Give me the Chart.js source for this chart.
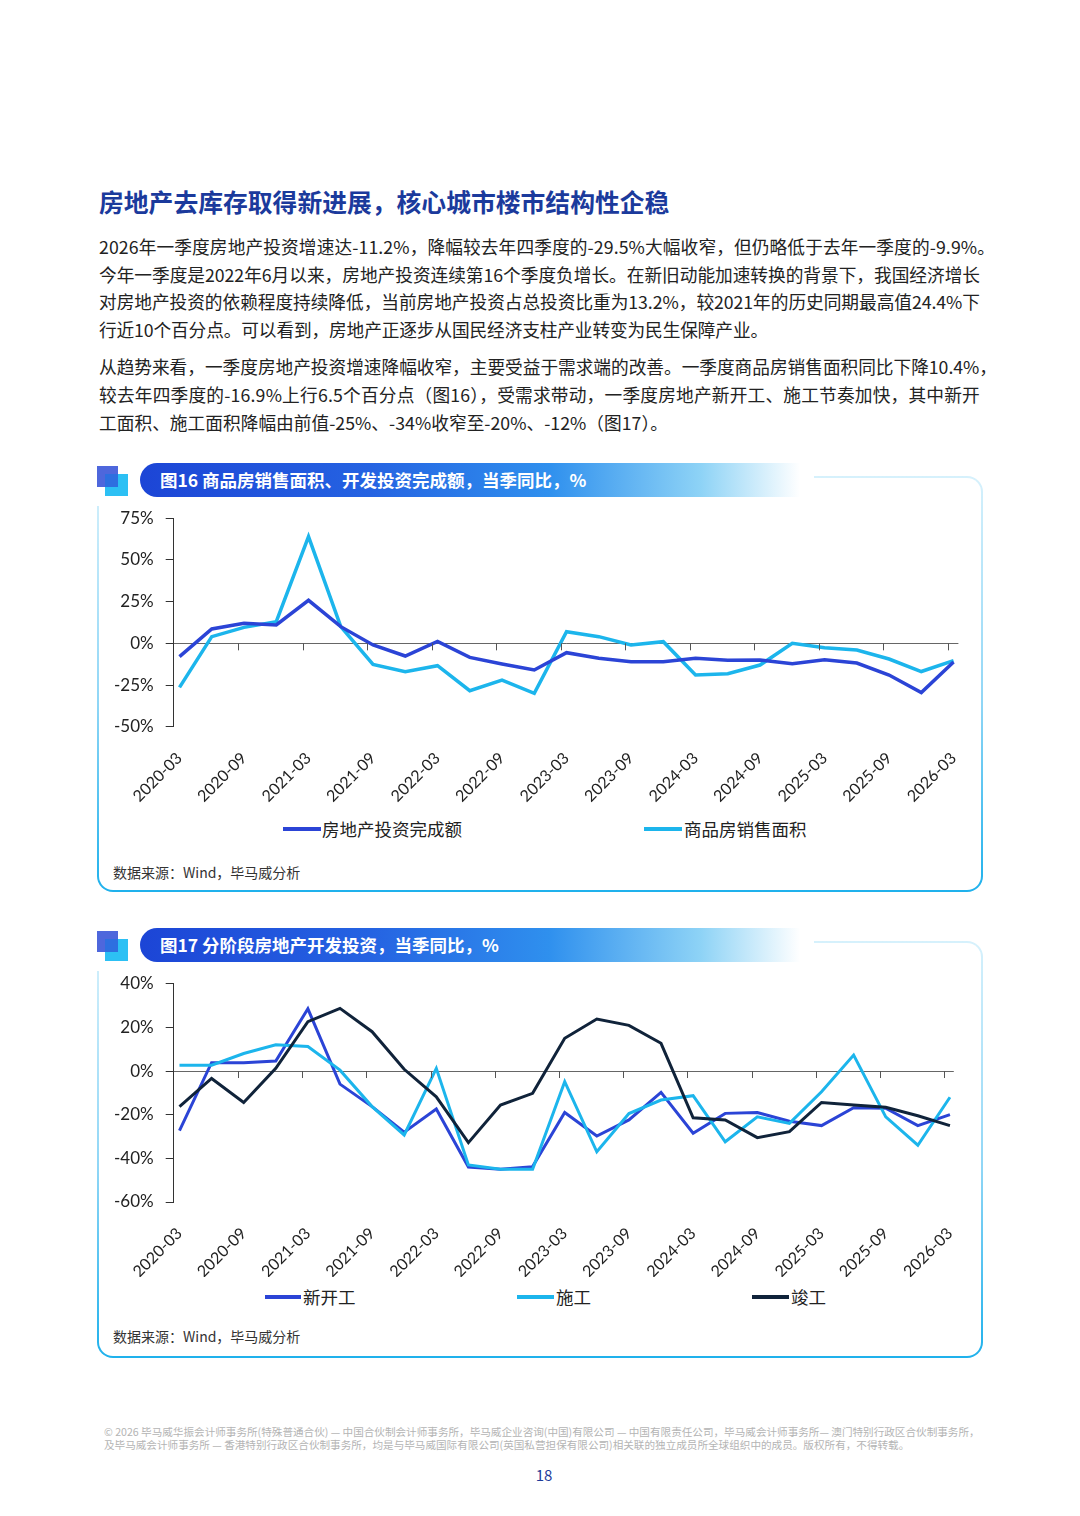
<!DOCTYPE html>
<html>
<head>
<meta charset="utf-8">
<script src="https://cdn.jsdelivr.net/npm/chart.js@4"></script>
<style>
  html, body { margin: 0; padding: 0; background: #fff; }
  body { width: 1080px; height: 1516px; position: relative; overflow: hidden;
         font-family: "Noto Sans CJK SC", "Noto Sans", sans-serif; color: #222; }
  .abs { position: absolute; }
  h1 { position: absolute; left: 99px; top: 184px; margin: 0; font-size: 24.8px; line-height: 34px;
       color: #1b3a9c; font-weight: 700; white-space: nowrap; }
  .para { position: absolute; left: 99px; font-size: 17.7px; line-height: 27.7px; white-space: nowrap; color: #222; }
  .frame { position: absolute; left: 97px; width: 886px; border: 2px solid transparent; border-radius: 16px;
           box-sizing: border-box;
           background: linear-gradient(#fff, #fff) padding-box,
                       linear-gradient(180deg, #d6f1fc 0%, #8fd6f6 55%, #1fb1ec 100%) border-box; }
  .mask { position: absolute; left: 94px; width: 720px; height: 36px; background: #fff; }
  .sqA { position: absolute; width: 21px; height: 21px; background: #4e67dc; }
  .sqB { position: absolute; width: 23px; height: 22px; background: #2cc0f4; }
  .sqC { position: absolute; width: 13px; height: 13px; background: #2d6fe0; }
  .pill { position: absolute; left: 140px; width: 660px; height: 34px; border-radius: 17px 0 0 17px;
          background: linear-gradient(90deg, #1c45d6 0%, #2563e2 35%, #2f90ee 62%, #8ed3f6 85%, rgba(255,255,255,0) 100%); }
  .pill span { position: absolute; left: 20px; top: 0; line-height: 34px; font-size: 17.5px; font-weight: 700;
               color: #fff; white-space: nowrap; }
  .box { position: absolute; left: 97px; width: 886px; height: 312px; }
  .leg { position: absolute; font-size: 17.5px; line-height: 22px; white-space: nowrap; color: #222; }
  .leg i { position: absolute; height: 4px; top: 9px; }
  .src { position: absolute; left: 113px; font-size: 14px; line-height: 20px; color: #333; white-space: nowrap; }
  .foot { position: absolute; left: 104px; font-size: 10.6px; line-height: 13px; color: #b4b4b4; white-space: nowrap; }
</style>
</head>
<body>

<h1>房地产去库存取得新进展，核心城市楼市结构性企稳</h1>

<div class="para" data-end="995" style="top:233px">2026年一季度房地产投资增速达-11.2%，降幅较去年四季度的-29.5%大幅收窄，但仍略低于去年一季度的-9.9%。</div>
<div class="para" data-end="980" style="top:261px">今年一季度是2022年6月以来，房地产投资连续第16个季度负增长。在新旧动能加速转换的背景下，我国经济增长</div>
<div class="para" data-end="980" style="top:288px">对房地产投资的依赖程度持续降低，当前房地产投资占总投资比重为13.2%，较2021年的历史同期最高值24.4%下</div>
<div class="para" data-end="768" style="top:316px">行近10个百分点。可以看到，房地产正逐步从国民经济支柱产业转变为民生保障产业。</div>

<div class="para" data-end="997" style="top:353px">从趋势来看，一季度房地产投资增速降幅收窄，主要受益于需求端的改善。一季度商品房销售面积同比下降10.4%，</div>
<div class="para" data-end="980" style="top:381px">较去年四季度的-16.9%上行6.5个百分点（图16），受需求带动，一季度房地产新开工、施工节奏加快，其中新开</div>
<div class="para" data-end="668" style="top:409px">工面积、施工面积降幅由前值-25%、-34%收窄至-20%、-12%（图17）。</div>

<!-- figure 16 -->
<div class="frame" style="top:476px; height:416px"></div>
<div class="mask" style="top:470px"></div>
<div class="sqA" style="left:97px; top:466px"></div>
<div class="sqB" style="left:105px; top:474px"></div>
<div class="sqC" style="left:105px; top:474px"></div>
<div class="pill" style="top:463px"><span>图16 商品房销售面积、开发投资完成额，当季同比，%</span></div>
<div class="box" style="top:500px"><canvas id="chart16"></canvas></div>
<div class="leg" style="left:322px; top:818px"><i style="left:-39px; width:38px; background:#2b44d6"></i>房地产投资完成额</div>
<div class="leg" style="left:684px; top:818px"><i style="left:-40px; width:38px; background:#1cb5ec"></i>商品房销售面积</div>
<div class="src" style="top:862px">数据来源：Wind，毕马威分析</div>

<!-- figure 17 -->
<div class="frame" style="top:941px; height:417px"></div>
<div class="mask" style="top:935px"></div>
<div class="sqA" style="left:97px; top:931px"></div>
<div class="sqB" style="left:105px; top:939px"></div>
<div class="sqC" style="left:105px; top:939px"></div>
<div class="pill" style="top:928px"><span>图17 分阶段房地产开发投资，当季同比，%</span></div>
<div class="box" style="top:965px"><canvas id="chart17"></canvas></div>
<div class="leg" style="left:303px; top:1286px"><i style="left:-38px; width:36px; background:#2b44d6"></i>新开工</div>
<div class="leg" style="left:556px; top:1286px"><i style="left:-39px; width:37px; background:#1cb5ec"></i>施工</div>
<div class="leg" style="left:791px; top:1286px"><i style="left:-39px; width:37px; background:#10233a"></i>竣工</div>
<div class="src" style="top:1326px">数据来源：Wind，毕马威分析</div>

<div class="foot" style="top:1425px">© 2026 毕马威华振会计师事务所(特殊普通合伙) — 中国合伙制会计师事务所，毕马威企业咨询(中国)有限公司 — 中国有限责任公司，毕马威会计师事务所— 澳门特别行政区合伙制事务所，</div>
<div class="foot" style="top:1438px">及毕马威会计师事务所 — 香港特别行政区合伙制事务所，均是与毕马威国际有限公司(英国私营担保有限公司)相关联的独立成员所全球组织中的成员。版权所有，不得转载。</div>
<div class="abs" style="left:0; width:1088px; top:1464px; text-align:center; font-size:15px; line-height:22px; color:#1e3c9a">18</div>

<script>
// quarterly data, 2020-03 .. 2026-03
const quarters = [
  '2020-03', '2020-06', '2020-09', '2020-12',
  '2021-03', '2021-06', '2021-09', '2021-12',
  '2022-03', '2022-06', '2022-09', '2022-12',
  '2023-03', '2023-06', '2023-09', '2023-12',
  '2024-03', '2024-06', '2024-09', '2024-12',
  '2025-03', '2025-06', '2025-09', '2025-12',
  '2026-03'
];

// fig 16
const investment = [-8, 8.6, 12, 11, 25.8, 10, -1, -7.6, 1.2, -8.4, -12.4, -16, -5.6, -9, -11, -11, -9, -10.2, -10, -12.2, -9.9, -11.8, -19, -29.5, -11.2];
const salesArea = [-26.4, 4, 9.6, 13, 64, 10, -12.6, -17, -13.4, -28.4, -22, -30, 7, 4, -1, 1, -19, -18.2, -13, 0, -2.6, -4, -9.4, -16.9, -10.4];
const yTicks16 = [-50, -25, 0, 25, 50, 75];

// fig 17
const newStarts = [-27.3, 3.8, 3.8, 4.6, 28.5, -6, -16.3, -28, -17.4, -44, -45, -43.8, -19, -29.8, -22.4, -9.8, -28.5, -19.4, -19, -23, -25, -16.8, -17, -25, -20];
const underConstruction = [2.7, 2.7, 8, 12, 11.2, 0.4, -16.3, -29.3, 1.2, -43, -45, -45, -4.9, -37, -19.5, -13.3, -11.3, -32.4, -21, -24, -9.5, 7.3, -21, -34, -12];
const completions = [-16.3, -3.4, -14.4, 1.2, 22.6, 28.7, 18, 0.8, -11.8, -32.8, -15.6, -10.2, 15, 23.8, 20.9, 12.7, -21.4, -22.4, -30.5, -27.8, -14.4, -15.6, -16.6, -20.5, -25];
const yTicks17 = [-60, -40, -20, 0, 20, 40];

const DARK_BLUE = '#2b44d6';
const CYAN = '#1cb5ec';
const NAVY = '#10233a';

// stretch each body line a touch so it ends where the printed line ends
document.querySelectorAll('.para').forEach(el => {
  const w = el.getBoundingClientRect().width;
  const n = el.textContent.length;
  el.style.letterSpacing = ((+el.dataset.end - 99 - w) / n).toFixed(3) + 'px';
});

function toPoints(values) {
  return values.map((v, i) => ({ x: i, y: v }));
}

// small tick marks along the zero line, every two quarters from the axis start
const zeroTicks = {
  id: 'zeroTicks',
  afterDatasetsDraw(chart) {
    const xs = chart.scales.x, ys = chart.scales.y, ctx = chart.ctx;
    const y0 = ys.getPixelForValue(0);
    ctx.save();
    ctx.strokeStyle = '#555';
    ctx.lineWidth = 1;
    for (let v = xs.min + 2; v <= xs.max; v += 2) {
      const x = Math.round(xs.getPixelForValue(v)) + 0.5;
      ctx.beginPath();
      ctx.moveTo(x, y0);
      ctx.lineTo(x, y0 + 7);
      ctx.stroke();
    }
    ctx.restore();
  }
};

function makeChart(id, datasets, yTicks, opts) {
  return new Chart(document.getElementById(id), {
    type: 'line',
    data: { datasets: datasets },
    plugins: [zeroTicks],
    options: {
      responsive: true,
      maintainAspectRatio: false,
      animation: false,
      layout: { padding: { top: opts.top, right: opts.right, left: 0, bottom: 0 } },
      plugins: { legend: { display: false }, tooltip: { enabled: false } },
      elements: { point: { radius: 0 }, line: { tension: 0, borderJoinStyle: 'miter' } },
      scales: {
        x: {
          type: 'linear',
          min: opts.xMin,
          max: opts.xMax,
          afterBuildTicks: (scale) => {
            scale.ticks = quarters.map((q, i) => i).filter(i => i % 2 === 0).map(i => ({ value: i }));
          },
          afterFit: (scale) => { scale.height = opts.xHeight; },
          grid: { display: false },
          border: { display: false },
          ticks: {
            autoSkip: false,
            minRotation: 45,
            maxRotation: 45,
            padding: 14,
            color: '#222',
            font: { family: 'Lato', size: 16 },
            callback: (v) => quarters[v]
          }
        },
        y: {
          min: yTicks[0],
          max: yTicks[yTicks.length - 1],
          afterBuildTicks: (scale) => { scale.ticks = yTicks.map(v => ({ value: v })); },
          afterFit: (scale) => {
            scale.width = 76.7;
            scale.paddingTop = 0;
            scale.paddingBottom = 0;
          },
          border: { display: true, color: '#333', width: 1 },
          grid: {
            color: (c) => (c.tick && c.tick.value === 0 ? '#666' : 'rgba(0,0,0,0)'),
            tickColor: '#333',
            tickLength: 8,
            lineWidth: 1
          },
          ticks: {
            padding: 12,
            color: '#222',
            font: { family: 'Lato', size: 17 },
            callback: (v) => v + '%'
          }
        }
      }
    }
  });
}

makeChart('chart16', [
  { label: '房地产投资完成额', data: toPoints(investment), borderColor: DARK_BLUE, backgroundColor: DARK_BLUE, borderWidth: 3.5 },
  { label: '商品房销售面积', data: toPoints(salesArea), borderColor: CYAN, backgroundColor: CYAN, borderWidth: 3.5 }
], yTicks16, { top: 18.3, right: 24.6, xMin: -0.18, xMax: 24.15, xHeight: 85.3 });

makeChart('chart17', [
  { label: '新开工', data: toPoints(newStarts), borderColor: DARK_BLUE, backgroundColor: DARK_BLUE, borderWidth: 3, order: 2 },
  { label: '施工', data: toPoints(underConstruction), borderColor: CYAN, backgroundColor: CYAN, borderWidth: 3, order: 1 },
  { label: '竣工', data: toPoints(completions), borderColor: NAVY, backgroundColor: NAVY, borderWidth: 3, order: 0 }
], yTicks17, { top: 18.7, right: 29.2, xMin: -0.18, xMax: 24.12, xHeight: 75 });
</script>
</body>
</html>
